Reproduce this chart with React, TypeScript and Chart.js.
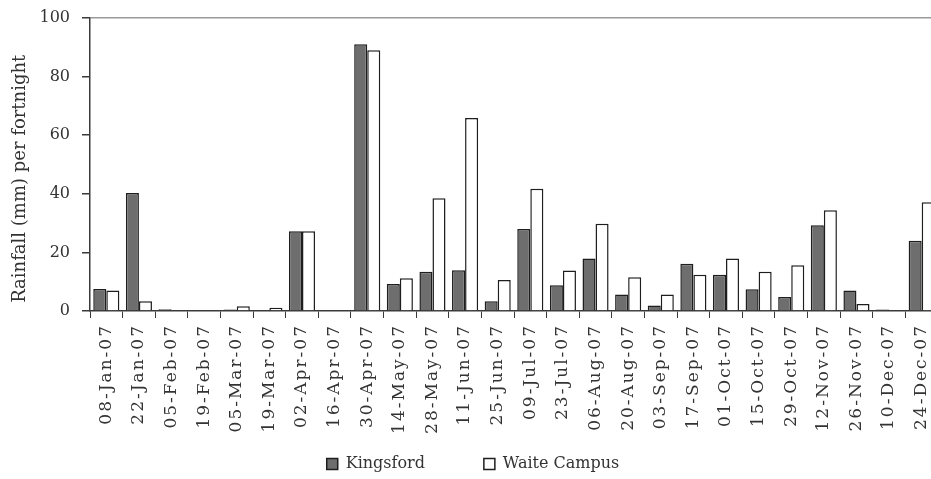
import React, { useEffect, useRef } from "react";
import { Chart, registerables } from "chart.js";

Chart.register(...registerables);

const categories = [
  "08-Jan-07", "22-Jan-07", "05-Feb-07", "19-Feb-07", "05-Mar-07", "19-Mar-07",
  "02-Apr-07", "16-Apr-07", "30-Apr-07", "14-May-07", "28-May-07", "11-Jun-07",
  "25-Jun-07", "09-Jul-07", "23-Jul-07", "06-Aug-07", "20-Aug-07", "03-Sep-07",
  "17-Sep-07", "01-Oct-07", "15-Oct-07", "29-Oct-07", "12-Nov-07", "26-Nov-07",
  "10-Dec-07", "24-Dec-07",
];

const kingsford = [
  7.5, 40.3, 0.6, 0, 0.5, 0, 27.2, 0, 91.0, 9.2, 13.4, 13.9, 3.3, 28.0, 8.8,
  17.9, 5.6, 1.9, 16.1, 12.4, 7.4, 4.8, 29.3, 7.0, 0.5, 24.0,
];

const waiteCampus = [
  7.0, 3.3, 0, 0, 1.6, 1.1, 27.2, 0, 89.0, 11.2, 38.5, 65.9, 10.6, 41.7, 13.8,
  29.8, 11.5, 5.6, 12.4, 17.9, 13.4, 15.6, 34.4, 2.4, 0, 37.1,
];

const seriesNames = ["Kingsford", "Waite Campus"];
const yTitle = "Rainfall (mm) per fortnight";

const FONT = "'DejaVu Serif', serif";
const TEXT = "#333333";
const LINE = "#3a3a3a";

export default function App() {
  const ref = useRef<HTMLCanvasElement | null>(null);

  useEffect(() => {
    if (!ref.current) return;
    const chart = new Chart(ref.current, {
      type: "bar",
      data: {
        labels: categories,
        datasets: [
          {
            label: seriesNames[0],
            data: kingsford,
            backgroundColor: "#6e6e6e",
            borderColor: "#1e1e1e",
            borderWidth: 1.5,
          },
          {
            label: seriesNames[1],
            data: waiteCampus,
            backgroundColor: "#ffffff",
            borderColor: "#1e1e1e",
            borderWidth: 1.5,
          },
        ],
      },
      options: {
        animation: false,
        responsive: false,
        devicePixelRatio: 1,
        layout: { padding: { top: 0, right: 0, left: 0, bottom: 0 } },
        datasets: {
          bar: { categoryPercentage: 0.8, barPercentage: 1.0 },
        },
        plugins: {
          tooltip: { enabled: false },
          legend: {
            position: "bottom",
            labels: {
              font: { family: FONT, size: 16 },
              color: TEXT,
              boxWidth: 11,
              boxHeight: 11,
              padding: 8,
              generateLabels: (c: any) => {
                const items = (Chart as any).defaults.plugins.legend.labels.generateLabels(c);
                if (items[0]) items[0].text = items[0].text + "          ";
                return items;
              },
            },
          },
        },
        scales: {
          x: {
            grid: {
              display: true,
              drawOnChartArea: false,
              drawTicks: true,
              tickLength: 7,
              tickColor: LINE,
              offset: true,
            },
            border: { display: true, color: LINE, width: 1.5 },
            ticks: {
              autoSkip: false,
              maxRotation: 90,
              minRotation: 90,
              padding: 6,
              color: TEXT,
              font: { family: FONT, size: 17 },
            },
            afterFit: (scale: any) => {
              scale.height = 137;
              scale.paddingLeft = 0;
              scale.paddingRight = 0;
              if (!scale._lsPatched) {
                const orig = scale.drawLabels.bind(scale);
                scale.drawLabels = (area: any) => {
                  const ctx = scale.ctx;
                  const prev = ctx.letterSpacing;
                  ctx.letterSpacing = "2px";
                  orig(area);
                  ctx.letterSpacing = prev || "0px";
                };
                scale._lsPatched = true;
              }
            },
          },
          y: {
            min: 0,
            max: 100,
            ticks: {
              stepSize: 20,
              padding: 12,
              color: TEXT,
              font: { family: FONT, size: 16 },
            },
            grid: {
              drawOnChartArea: true,
              drawTicks: true,
              tickLength: 8,
              tickColor: LINE,
              color: (ctx: any) => (ctx.tick && ctx.tick.value === 100 ? "#9a9a9a" : "rgba(0,0,0,0)"),
              lineWidth: 1.5,
            },
            border: { display: true, color: LINE, width: 1.5 },
            title: {
              display: true,
              text: yTitle + "     ",
              color: TEXT,
              font: { family: FONT, size: 18 },
              padding: { top: 2, bottom: 0 },
            },
            afterFit: (scale: any) => {
              scale.width = 82;
              scale.paddingTop = 10;
              scale.paddingBottom = 0;
            },
          },
        },
      },
    });
    return () => chart.destroy();
  }, []);

  return (
    <div
      style={{
        position: "absolute",
        left: 0,
        top: 0,
        width: 931,
        height: 479,
        overflow: "hidden",
      }}
    >
      <canvas
        ref={ref}
        width={930}
        height={474}
        style={{ display: "block", marginLeft: 8, marginTop: 8 }}
      />
    </div>
  );
}
